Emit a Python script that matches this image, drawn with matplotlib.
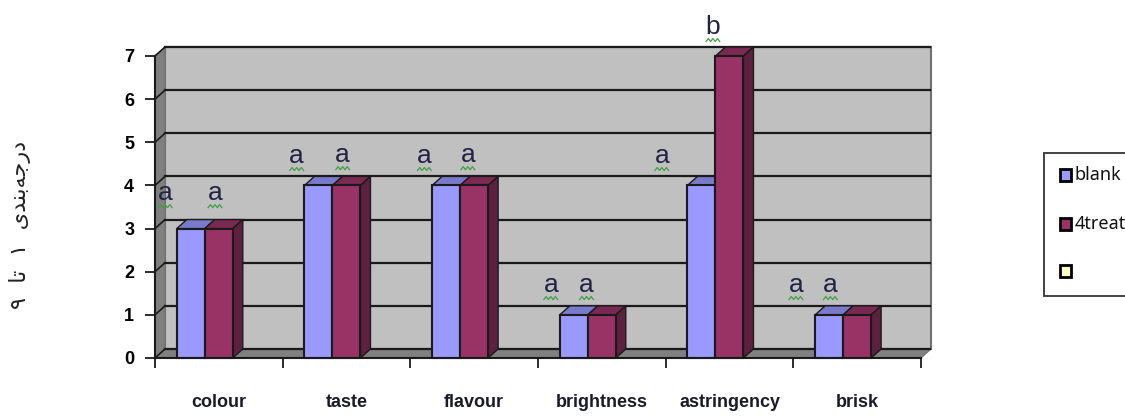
import matplotlib
matplotlib.use("Agg")
import matplotlib.pyplot as plt
from matplotlib.patches import Rectangle

categories = ["colour", "taste", "flavour", "brightness", "astringency", "brisk"]
blank = [3, 4, 4, 1, 4, 1]
treat = [3, 4, 4, 1, 7, 1]
legend_names = ["blank", "4treat", ""]

# letters above the bars in data units (baseline)
letters = ["a", "a", "a", "a", "a", "a", "a", "a", "a", "b", "a", "a"]
letter_x = [0.08, 0.47, 1.11, 1.47, 2.11, 2.45, 3.10, 3.38, 3.97, 4.37, 5.02, 5.29]
letter_y = [3.66, 3.66, 4.52, 4.54, 4.52, 4.54, 1.53, 1.53, 4.52, 7.51, 1.53, 1.53]

# Persian axis title, visual order with presentation forms (no shaping in matplotlib)
ylabel = "\u06f9  \ufe8e\ufe97  \u06f1  \ufbfc\ufeaa\ufee8\ufe91\ufeea\ufe9f\ufead\ufea9"

BLUE, BLUE_TOP = "#9999FF", "#7A7ACC"
RED, RED_TOP, RED_SIDE = "#993366", "#7A2952", "#5E2040"
WALL, SHADE = "#C0C0C0", "#808080"
DARK = "#1A1A1A"

W, H = 1125, 416
L, R, B, T = 155, 921, 358, 56  # front plane in pixels
dx = 10 / ((R - L) / 6)
dy = 9 / ((B - T) / 7)
bar_w = 28 / ((R - L) / 6)

plt.rcParams["font.family"] = ["Noto Sans", "DejaVu Sans"]

fig = plt.figure(figsize=(W / 100, H / 100), dpi=100)
ax = fig.add_axes([L / W, (H - B) / H, (R - L) / W, (B - T) / H])
ax.set_xlim(0, 6)
ax.set_ylim(0, 7)
ax.patch.set_visible(False)

# walls and floor
ax.add_patch(Rectangle((dx, dy), 6, 7, fc=WALL, ec="#707070", lw=1.5, clip_on=False, zorder=1))
ax.fill([0, dx, dx, 0], [0, dy, 7 + dy, 7], fc=SHADE, ec="#707070", lw=0.8, clip_on=False, zorder=1)
ax.fill([0, 6, 6 + dx, dx], [0, 0, dy, dy], fc=SHADE, ec="#707070", lw=0.8, clip_on=False, zorder=1)
for v in range(8):
    ax.plot([dx, 6 + dx - 0.01], [v + dy, v + dy], color=DARK, lw=1.6, clip_on=False, zorder=2)
    ax.plot([0, dx], [v, v + dy], color=DARK, lw=1.2, clip_on=False, zorder=2)

# bars with their 3d faces
for i in range(len(categories)):
    c = i + 0.5 - 0.11
    x0, x1, x2 = c - bar_w, c, c + bar_w
    ax.bar(x0, blank[i], bar_w, align="edge", color=BLUE, ec=DARK, lw=1.5, zorder=4, clip_on=False)
    ax.fill([x0, x1, x1 + dx, x0 + dx], [blank[i], blank[i], blank[i] + dy, blank[i] + dy],
            fc=BLUE_TOP, ec=DARK, lw=1.0, clip_on=False, zorder=3)
    ax.bar(x1, treat[i], bar_w, align="edge", color=RED, ec=DARK, lw=1.5, zorder=5, clip_on=False)
    ax.fill([x1, x2, x2 + dx, x1 + dx], [treat[i], treat[i], treat[i] + dy, treat[i] + dy],
            fc=RED_TOP, ec=DARK, lw=1.0, clip_on=False, zorder=4)
    ax.fill([x2, x2 + dx, x2 + dx, x2], [0, dy, treat[i] + dy, treat[i]],
            fc=RED_SIDE, ec=DARK, lw=1.0, clip_on=False, zorder=4)

# axes
for s in ["top", "right"]:
    ax.spines[s].set_visible(False)
for s in ["left", "bottom"]:
    ax.spines[s].set_linewidth(1.5)
    ax.spines[s].set_color(DARK)
    ax.spines[s].set_zorder(6)
ax.set_yticks(range(8))
ax.set_xticks(range(7))
ax.set_xticklabels([])
ax.set_xticks([i + 0.5 for i in range(6)], minor=True)
ax.set_xticklabels(categories, minor=True, fontsize=13, fontweight="bold", color="#1a1a2a",
                   family="Liberation Sans")
ax.tick_params(axis="x", which="major", length=7, width=1.3, color=DARK)
ax.tick_params(axis="x", which="minor", length=0, pad=26)
ax.tick_params(axis="y", length=7, width=1.3, color=DARK, pad=8, labelsize=13)
for lab in ax.get_yticklabels():
    lab.set_fontweight("bold")
    lab.set_family("Liberation Sans")

# significance letters with the green spell check underline
for s, x, y in zip(letters, letter_x, letter_y):
    ax.text(x, y, s, ha="center", va="baseline", fontsize=19, color="#222244",
            family="Liberation Sans", clip_on=False, zorder=7)
    wx = [x + k * 0.018 for k in range(-3, 4)]
    wy = [y - 0.14 + (0.035 if k % 2 else -0.035) for k in range(7)]
    ax.plot(wx, wy, color="#3FA03F", lw=0.9, clip_on=False, zorder=7)

fig.text(20 / W, (H - 225) / H, ylabel, rotation=90, ha="center", va="center",
         fontsize=16, family="DejaVu Sans", color="#222222")

# legend box runs off the right edge of the picture
fig.add_artist(Rectangle((1044 / W, (H - 296) / H), 100 / W, 143 / H, transform=fig.transFigure,
                         fc="white", ec="#333333", lw=1.3))
leg_y = [175, 224, 271]
leg_c = [BLUE, RED, "#FFFFCC"]
for name, py, col in zip(legend_names, leg_y, leg_c):
    fig.add_artist(Rectangle((1060 / W, (H - py - 6) / H), 11 / W, 12 / H, transform=fig.transFigure,
                             fc=col, ec="black", lw=2.0))
    fig.text(1075 / W, (H - py) / H, name, ha="left", va="center", fontsize=13, color="#111111")

fig.savefig("out.png", dpi=100)
